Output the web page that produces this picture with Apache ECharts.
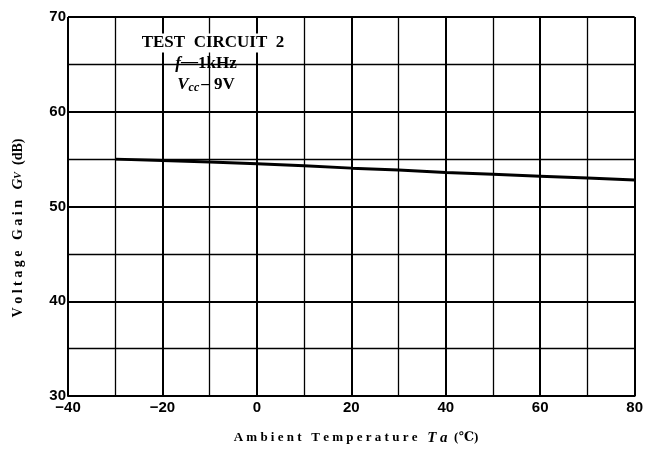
<!DOCTYPE html>
<html>
<head>
<meta charset="utf-8">
<script src="https://cdn.jsdelivr.net/npm/echarts@6/dist/echarts.min.js"></script>
<style>
  html, body { margin: 0; padding: 0; background: #fff; }
  #main { width: 646px; height: 450px; }
</style>
</head>
<body>
<div id="main"></div>
<script>
// ambient temperature (°C) and voltage gain (dB)
var temps = [-30, -20, -10, 0, 10, 20, 30, 40, 50, 60, 70, 80];
var gains = [55.0, 54.85, 54.7, 54.5, 54.3, 54.05, 53.85, 53.6, 53.4, 53.2, 53.0, 52.8];

var xRange = [-40, 80];
var yRange = [30, 70];

var chart = echarts.init(document.getElementById('main'));

var serif = '"Liberation Serif", "DejaVu Serif", serif';
var sans = '"Liberation Sans", Arial, sans-serif';

chart.setOption({
  animation: false,
  grid: { left: 68, right: 9, top: 17, bottom: 54 },
  xAxis: {
    type: 'value',
    min: xRange[0], max: xRange[1], interval: 20,
    axisLine: { show: true, onZero: false, lineStyle: { color: '#000', width: 2 } },
    axisTick: { show: false },
    axisLabel: {
      color: '#000', fontFamily: sans, fontWeight: 'bold', fontSize: 15, margin: 4,
      formatter: function (v) { return String(v).replace('-', '\u2212'); }
    },
    splitLine: { show: true, lineStyle: { color: '#000', width: 2 } },
    minorTick: { show: false, splitNumber: 2 },
    minorSplitLine: { show: true, lineStyle: { color: '#000', width: 1.3 } }
  },
  yAxis: {
    type: 'value',
    min: yRange[0], max: yRange[1], interval: 10,
    axisLine: { show: true, lineStyle: { color: '#000', width: 2 } },
    axisTick: { show: false },
    axisLabel: {
      color: '#000', fontFamily: sans, fontWeight: 'bold', fontSize: 15, margin: 2
    },
    splitLine: { show: true, lineStyle: { color: '#000', width: 2 } },
    minorTick: { show: false, splitNumber: 2 },
    minorSplitLine: { show: true, lineStyle: { color: '#000', width: 1.3 } }
  },
  series: [{
    type: 'line',
    data: temps.map(function (t, i) { return [t, gains[i]]; }),
    symbol: 'none',
    lineStyle: { color: '#000', width: 3 },
    z: 5
  }],
  graphic: [
    {
      type: 'text', x: 213, y: 43, z: 10,
      style: {
        text: 'TEST  CIRCUIT  2', fill: '#000', backgroundColor: '#fff',
        font: 'bold 17px ' + serif, padding: [1, 3],
        align: 'center', verticalAlign: 'middle'
      }
    },
    {
      type: 'text', x: 206, y: 64, z: 10,
      style: {
        text: '{i|f}{d|\u2014}{n|1kHz}', fill: '#000',
        align: 'center', verticalAlign: 'middle',
        rich: {
          i: { font: 'italic bold 17px ' + serif, fill: '#000' },
          d: { font: 'bold 17px ' + serif, fill: '#000', padding: [0, 0, 2, 0] },
          n: { font: 'bold 17px ' + serif, fill: '#000' }
        }
      }
    },
    {
      type: 'text', x: 206, y: 85, z: 10,
      style: {
        text: '{v|V}{s|cc}{n|\u2013 9V}', fill: '#000',
        align: 'center', verticalAlign: 'middle',
        rich: {
          v: { font: 'italic bold 17px ' + serif, fill: '#000' },
          s: { font: 'italic bold 12px ' + serif, fill: '#000', padding: [5, 2, 0, 0] },
          n: { font: 'bold 17px ' + serif, fill: '#000' }
        }
      }
    },
    {
      type: 'text', x: 356, y: 438, z: 10,
      style: {
        text: 'A m b i e n t   T e m p e r a t u r e   {i|T a}  (\u2103)',
        fill: '#000', font: 'bold 13px ' + serif,
        align: 'center', verticalAlign: 'middle',
        rich: { i: { font: 'italic bold 15px ' + serif, fill: '#000' } }
      }
    },
    {
      type: 'text', x: 18, y: 228, rotation: Math.PI / 2, z: 10,
      style: {
        text: 'V o l t a g e   G a i n   {i|G}{s|V}  (dB)',
        fill: '#000', font: 'bold 14px ' + serif,
        align: 'center', verticalAlign: 'middle',
        rich: {
          i: { font: 'italic bold 15px ' + serif, fill: '#000' },
          s: { font: 'italic bold 10px ' + serif, fill: '#000' }
        }
      }
    }
  ]
});
</script>
</body>
</html>
